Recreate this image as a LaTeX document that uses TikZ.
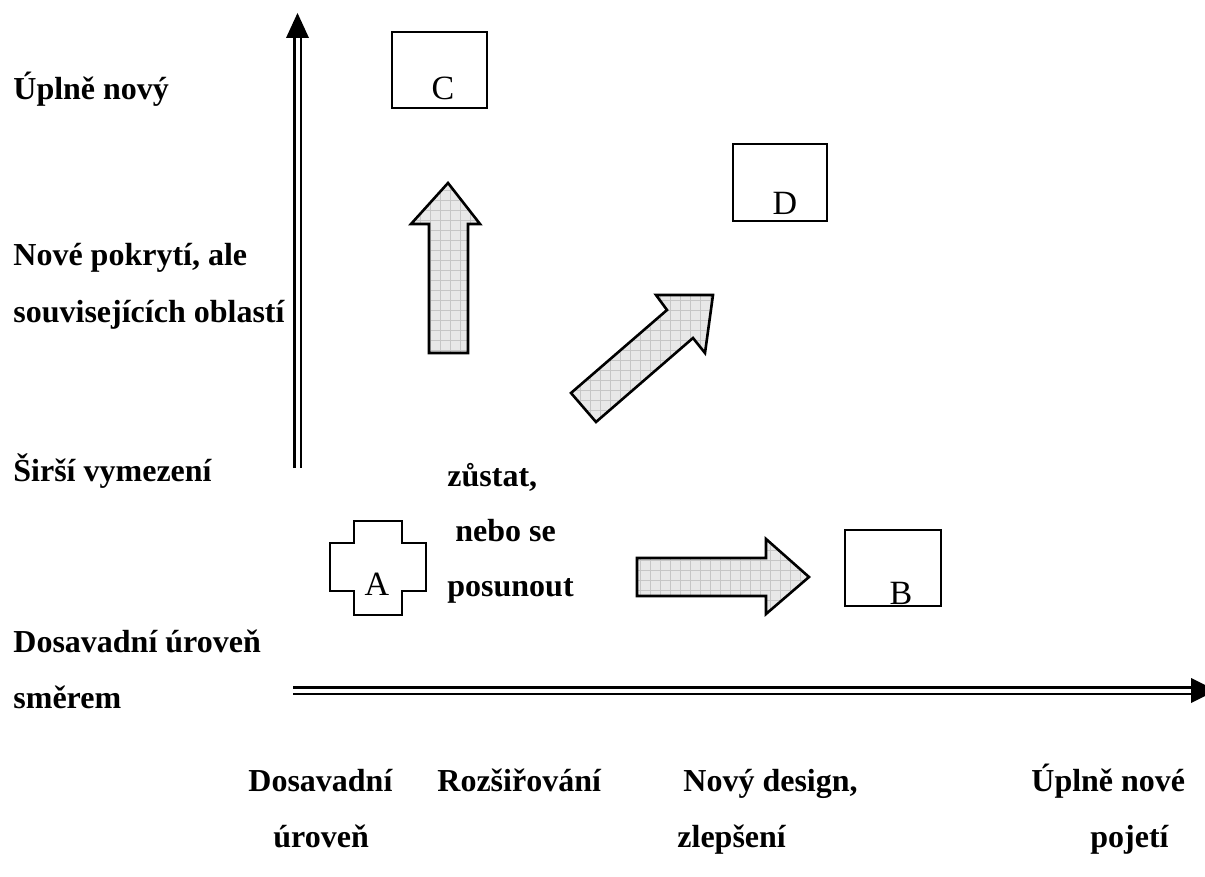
\documentclass[tikz,border=0pt]{standalone}
\usepackage{fontspec}
\setmainfont{Liberation Serif}
\begin{document}
\begin{tikzpicture}[x=0.5pt,y=-0.5pt,
  lbl/.style={anchor=base west, inner sep=0pt, font=\fontsize{16}{19}\selectfont\bfseries},
  letter/.style={anchor=base, inner sep=0pt, font=\fontsize{17}{20}\selectfont},
  box/.style={draw, line width=1.1pt, inner sep=0pt},
  shapeline/.style={draw, line width=1.3pt, line join=miter},
  axisline/.style={double, line width=1.4pt, double distance=2pt},
  gridfill/.style={gray!45, line width=0.35pt},
  tipfill/.style={fill=black}
]
\useasboundingbox (0,0) rectangle (1205,877);

% ---------- axes ----------
\coordinate (vbot) at (297.5,468);
\coordinate (vtop) at (297.5,37);
\coordinate (vtip) at (297.5,13);
\draw[axisline] (vbot) -- (vtop);
\fill (vtip) -- (286,38) -- (309,38) -- cycle;

\coordinate (hl) at (293,690.5);
\coordinate (hr) at (1192,690.5);
\coordinate (htip) at (1216,690.5);
\draw[axisline] (hl) -- (hr);
\fill (htip) -- (1191,678) -- (1191,703) -- cycle;

% ---------- boxes ----------
\node[box, minimum width=47.5pt, minimum height=38pt] (C) at (439.5,70) {};
\node[letter] (Clab) at (443,100) {C};
\node[box, minimum width=47pt, minimum height=38.5pt] (D) at (780,182.5) {};
\node[letter] (Dlab) at (785,215) {D};
\node[box, minimum width=48pt, minimum height=38pt] (B) at (893,568) {};
\node[letter] (Blab) at (901,604) {B};

% ---------- cross A ----------
\draw[shapeline] (330,543) -- (354,543) -- (354,521) -- (402,521) -- (402,543) -- (426,543)
  -- (426,591) -- (402,591) -- (402,615) -- (354,615) -- (354,591) -- (330,591) -- cycle;
\node[letter] (Alab) at (377,595) {A};

% ---------- block arrows ----------
\def\uparr{(448,183) -- (480,224) -- (468,224) -- (468,353) -- (429,353) -- (429,224) -- (411,224) -- cycle}
\def\rightarr{(637,558) -- (766,558) -- (766,539) -- (809,577) -- (766,614) -- (766,596) -- (637,596) -- cycle}
\def\diagarr{(571,393) -- (667,310) -- (656,295) -- (713,295) -- (705,353) -- (693,338) -- (596,422) -- cycle}

\begin{scope}
  \clip \uparr;
  \fill[gray!18] (400,170) rectangle (500,360);
  \draw[gridfill, step=5pt] (400,170) grid (500,360);
\end{scope}
\draw[shapeline] \uparr;

\begin{scope}
  \clip \rightarr;
  \fill[gray!18] (630,530) rectangle (820,620);
  \draw[gridfill, step=5pt] (630,530) grid (820,620);
\end{scope}
\draw[shapeline] \rightarr;

\begin{scope}
  \clip \diagarr;
  \fill[gray!18] (560,280) rectangle (730,430);
  \draw[gridfill, step=5pt] (560,280) grid (730,430);
\end{scope}
\draw[shapeline] \diagarr;

% ---------- left labels ----------
\node[lbl] (l1) at (13,100) {Úplně nový};
\node[lbl] (l2) at (13,266) {Nové pokrytí, ale};
\node[lbl] (l3) at (13,322) {souvisejících oblastí};
\node[lbl] (l4) at (13,481) {Širší vymezení};
\node[lbl] (l5) at (13,652) {Dosavadní úroveň};
\node[lbl] (l6) at (13,708) {směrem};

% ---------- middle labels ----------
\node[lbl] (m1) at (447,486) {zůstat,};
\node[lbl] (m2) at (455,541) {nebo se};
\node[lbl] (m3) at (447,596) {posunout};

% ---------- bottom labels ----------
\node[lbl] (b1) at (248,791) {Dosavadní};
\node[lbl] (b2) at (273,847) {úroveň};
\node[lbl] (b3) at (437,791) {Rozšiřování};
\node[lbl] (b4) at (683,791) {Nový design,};
\node[lbl] (b5) at (677,847) {zlepšení};
\node[lbl] (b6) at (1031,791) {Úplně nové};
\node[lbl] (b7) at (1090,847) {pojetí};
\end{tikzpicture}
\end{document}
